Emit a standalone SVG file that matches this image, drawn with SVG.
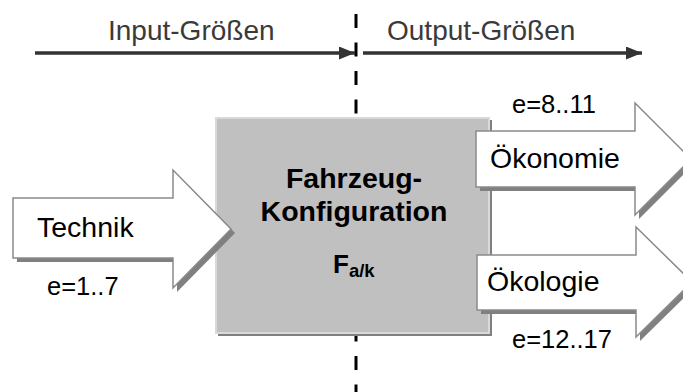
<svg xmlns="http://www.w3.org/2000/svg" width="683" height="392" viewBox="0 0 683 392">
<defs>
<marker id="ah" viewBox="0 0 16 13" refX="16" refY="6.5" markerWidth="16" markerHeight="13" markerUnits="userSpaceOnUse" orient="auto">
<path d="M0,0 L16,6.5 L0,13 Z" fill="#333333"/>
</marker>
<polygon id="tech" points="13,198 173,198 173,170 231,229 173,288 173,258 13,258"/>
<polygon id="oeko" points="476,131 635,131 635,103 691,159 635,215 635,187 476,187"/>
<polygon id="oekl" points="477,255 636,255 636,227 692,282 636,337 636,310 477,310"/>
</defs>
<style>
.lbl{font-family:"Liberation Sans",Arial,sans-serif;font-size:28.5px;fill:#000}
.e{font-family:"Liberation Sans",Arial,sans-serif;font-size:25.5px;fill:#000}
.top{font-family:"Liberation Sans",Arial,sans-serif;font-size:28px;fill:#3a3a3a}
.bold{font-family:"Liberation Sans",Arial,sans-serif;font-weight:bold;fill:#000}
.shadow{fill:#808080}
.arrow{fill:#ffffff;stroke:#8a8a8a;stroke-width:1.5}
.conn{stroke:#333333;stroke-width:3.5;fill:none}
</style>
<rect width="683" height="392" fill="#ffffff"/>
<g id="divider">
<line x1="356" y1="14" x2="356" y2="392" stroke="#000" stroke-width="3" stroke-dasharray="14 14.5"/>
</g>
<g id="connectors">
<line class="conn" x1="35" y1="53" x2="355" y2="53" marker-end="url(#ah)"/>
<line class="conn" x1="363" y1="53" x2="642" y2="53" marker-end="url(#ah)"/>
<text class="top" x="108" y="40">Input-Größen</text>
<text class="top" x="387" y="40">Output-Größen</text>
</g>
<g id="box">
<rect x="218" y="120" width="274" height="216" class="shadow"/>
<rect x="216" y="118" width="273" height="215" fill="#c0c0c0" stroke="#d9d9d9" stroke-width="2"/>
<text class="bold" x="354" y="188" text-anchor="middle" font-size="28.5">Fahrzeug-</text>
<text class="bold" x="354" y="221" text-anchor="middle" font-size="28.5">Konfiguration</text>
<text class="bold" x="333" y="273" font-size="26">F<tspan font-size="18.5" dy="4">a/k</tspan></text>
</g>
<g id="technik">
<use href="#tech" class="shadow" transform="translate(4,4)"/>
<use href="#tech" class="arrow"/>
<text class="lbl" x="37" y="237">Technik</text>
<text class="e" x="47" y="295">e=1..7</text>
</g>
<g id="oekonomie">
<use href="#oeko" class="shadow" transform="translate(4,4)"/>
<use href="#oeko" class="arrow"/>
<text class="lbl" x="490" y="168">Ökonomie</text>
<text class="e" x="512" y="113">e=8..11</text>
</g>
<g id="oekologie">
<use href="#oekl" class="shadow" transform="translate(4,4)"/>
<use href="#oekl" class="arrow"/>
<text class="lbl" x="487" y="291">Ökologie</text>
<text class="e" x="512" y="348">e=12..17</text>
</g>
</svg>
